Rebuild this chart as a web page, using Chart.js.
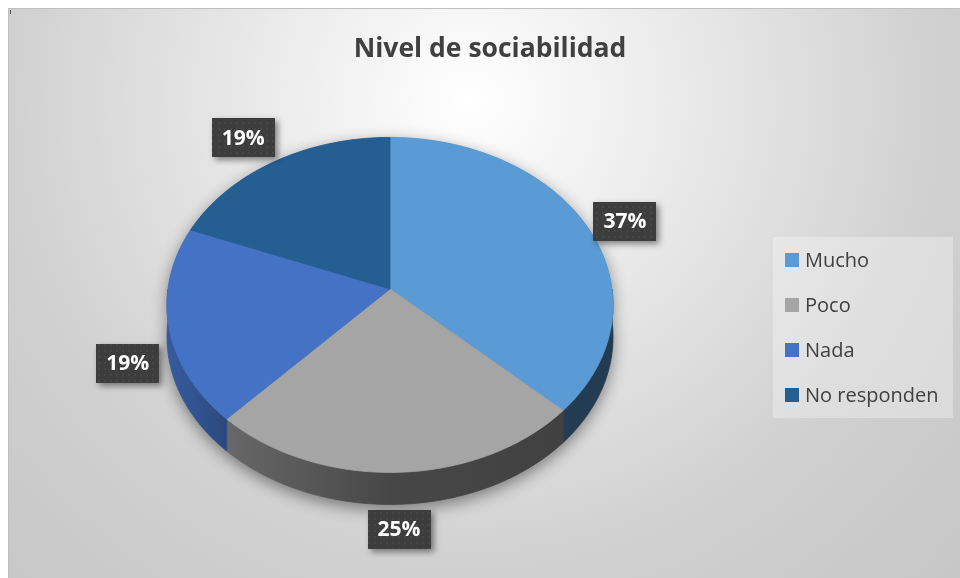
<!DOCTYPE html>
<html>
<head>
<meta charset="utf-8">
<script src="https://cdn.jsdelivr.net/npm/chart.js@4.4.1/dist/chart.umd.min.js"></script>
<style>
  html, body { margin: 0; padding: 0; background: #ffffff; }
  #graph { display: block; }
</style>
</head>
<body>
<canvas id="graph" width="960" height="578"></canvas>
<script>
const categories = ['Mucho', 'Poco', 'Nada', 'No responden'];
const percentages = [37, 25, 19, 19];
const sliceColors = ['#5B9BD5', '#A5A5A5', '#4472C4', '#255E91'];
const chartTitle = 'Nivel de sociabilidad';

// geometry of the tilted pie (perspective projection of a flat disk)
const PIE = { cx: 390, cy: 289, rx: 222, sy: 166, persp: 0.095, depth: 32 };

function project(a, k, h) {
    const u = k * Math.cos(a);
    const v = k * Math.sin(a);
    const d = 1 - PIE.persp * v;
    return [PIE.cx + PIE.rx * u / d, PIE.cy + PIE.sy * v / d + h];
}

function shade(hex, f) {
    const n = parseInt(hex.slice(1), 16);
    const r = Math.round(((n >> 16) & 255) * f);
    const g = Math.round(((n >> 8) & 255) * f);
    const b = Math.round((n & 255) * f);
    return `rgb(${r},${g},${b})`;
}

function arcPoints(a0, a1, k, h) {
    const pts = [];
    const steps = Math.max(2, Math.ceil((a1 - a0) / 0.01));
    for (let i = 0; i <= steps; i++) {
        pts.push(project(a0 + (a1 - a0) * i / steps, k, h));
    }
    return pts;
}

// dotted dark fill used behind the data labels
function makeLabelPattern(ctx) {
    const c = document.createElement('canvas');
    c.width = 6; c.height = 6;
    const p = c.getContext('2d');
    p.fillStyle = '#3d3d3d';
    p.fillRect(0, 0, 6, 6);
    p.fillStyle = '#4a4a4a';
    p.beginPath();
    p.arc(3, 3, 1.1, 0, Math.PI * 2);
    p.fill();
    return ctx.createPattern(c, 'repeat');
}

const backgroundPlugin = {
    id: 'frameBackground',
    beforeDraw(chart) {
        const ctx = chart.ctx;
        ctx.save();
        const g = ctx.createRadialGradient(470, 100, 0, 470, 100, 700);
        g.addColorStop(0, '#ffffff');
        g.addColorStop(0.67, '#d0d0d0');
        g.addColorStop(1, '#c6c6c6');
        ctx.fillStyle = g;
        ctx.fillRect(8, 8, chart.width - 8, chart.height - 8);
        ctx.strokeStyle = '#bfbfbf';
        ctx.lineWidth = 1;
        ctx.strokeRect(8.5, 8.5, chart.width, chart.height);
        ctx.fillStyle = '#555555';
        ctx.fillRect(10, 10, 1, 4);
        ctx.restore();
    }
};

const pie3dPlugin = {
    id: 'pie3d',
    beforeDatasetsDraw(chart) {
        const ctx = chart.ctx;
        const arcs = chart.getDatasetMeta(0).data;
        const colors = chart.data.datasets[0].backgroundColor;
        ctx.save();

        // soft outer shadow of the whole pie
        ctx.beginPath();
        arcPoints(0, Math.PI, 1, PIE.depth).forEach((p, i) => i ? ctx.lineTo(p[0], p[1]) : ctx.moveTo(p[0], p[1]));
        arcPoints(Math.PI, Math.PI * 2, 1, 0).forEach(p => ctx.lineTo(p[0], p[1]));
        ctx.closePath();
        ctx.shadowColor = 'rgba(0,0,0,0.45)';
        ctx.shadowBlur = 16;
        ctx.shadowOffsetY = 5;
        ctx.fillStyle = '#777777';
        ctx.fill();
        ctx.shadowColor = 'transparent';

        // outer walls on the front half
        arcs.forEach((arc, i) => {
            const ranges = [[0, Math.PI], [Math.PI * 2, Math.PI * 3]];
            ranges.forEach(([lo, hi]) => {
                const a0 = Math.max(arc.startAngle, lo);
                const a1 = Math.min(arc.endAngle, hi);
                if (a1 <= a0) return;
                const top = arcPoints(a0, a1, 1, 0);
                const bottom = arcPoints(a0, a1, 1, PIE.depth).reverse();
                const g = ctx.createLinearGradient(PIE.cx - PIE.rx, 0, PIE.cx + PIE.rx, 0);
                g.addColorStop(0, shade(colors[i], 0.8));
                g.addColorStop(0.15, shade(colors[i], 0.62));
                g.addColorStop(0.5, shade(colors[i], 0.43));
                g.addColorStop(1, shade(colors[i], 0.38));
                ctx.beginPath();
                top.concat(bottom).forEach((p, j) => j ? ctx.lineTo(p[0], p[1]) : ctx.moveTo(p[0], p[1]));
                ctx.closePath();
                ctx.fillStyle = g;
                ctx.strokeStyle = g;
                ctx.lineWidth = 0.8;
                ctx.fill();
                ctx.stroke();
            });
        });

        // top faces
        arcs.forEach((arc, i) => {
            ctx.beginPath();
            ctx.moveTo(PIE.cx, PIE.cy);
            arcPoints(arc.startAngle, arc.endAngle, 1, 0).forEach(p => ctx.lineTo(p[0], p[1]));
            ctx.closePath();
            ctx.fillStyle = colors[i];
            ctx.strokeStyle = colors[i];
            ctx.lineWidth = 0.8;
            ctx.fill();
            ctx.stroke();
        });

        ctx.restore();
        return false; // the flat pie itself is replaced by the drawing above
    },
    afterDraw(chart) {
        const ctx = chart.ctx;
        const arcs = chart.getDatasetMeta(0).data;
        const values = chart.data.datasets[0].data;
        const colors = chart.data.datasets[0].backgroundColor;
        const total = values.reduce((s, v) => s + v, 0);
        const pattern = makeLabelPattern(ctx);
        ctx.save();

        // data labels, outside end
        arcs.forEach((arc, i) => {
            const mid = (arc.startAngle + arc.endAngle) / 2;
            const front = Math.sin(mid) > 0;
            const anchor = project(mid, 1, front ? PIE.depth : 0);
            const c = Math.cos(mid), s = Math.sin(mid);
            const x = anchor[0] + c * 42 - 8 * Math.max(0, -s) * Math.max(0, -c) * 2;
            const y = anchor[1] + s * 25 + (s < 0 ? 6 * c : 0);
            const w = 63, h = 39;
            ctx.shadowColor = 'rgba(0,0,0,0.45)';
            ctx.shadowBlur = 6;
            ctx.shadowOffsetX = 3;
            ctx.shadowOffsetY = 3;
            ctx.fillStyle = pattern;
            ctx.fillRect(Math.round(x - w / 2), Math.round(y - h / 2), w, h);
            ctx.shadowColor = 'transparent';
            ctx.fillStyle = '#ffffff';
            ctx.font = 'bold 21px "Open Sans"';
            ctx.textAlign = 'center';
            ctx.textBaseline = 'middle';
            ctx.fillText(Math.round(values[i] / total * 100) + '%', x, y + 1);
        });

        // legend box
        ctx.fillStyle = 'rgba(255,255,255,0.3)';
        ctx.fillRect(773, 237, 180, 181);
        ctx.font = '20px "Open Sans"';
        ctx.textAlign = 'left';
        ctx.textBaseline = 'middle';
        chart.data.labels.forEach((label, i) => {
            const rowY = 260 + i * 45;
            ctx.fillStyle = colors[i];
            ctx.fillRect(785, rowY - 7, 14, 14);
            ctx.fillStyle = '#404040';
            ctx.fillText(label, 805, rowY + 1);
        });
        ctx.restore();
    }
};

const ctx = document.getElementById('graph');

const config = {
    type: 'pie',
    data: {
        labels: categories,
        datasets: [{
            data: percentages,
            backgroundColor: sliceColors,
            borderWidth: 0
        }]
    },
    options: {
        responsive: false,
        animation: false,
        layout: { padding: { left: 20, top: 8, right: 0, bottom: 0 } },
        plugins: {
            legend: { display: false },
            tooltip: { enabled: false },
            title: {
                display: true,
                text: chartTitle,
                color: '#404040',
                font: { family: '"Open Sans"', size: 26.5, weight: 'bold', lineHeight: 1.2 },
                padding: { top: 26, bottom: 10 }
            }
        }
    },
    plugins: [backgroundPlugin, pie3dPlugin]
};

const chart = new Chart(ctx, config);
</script>
</body>
</html>
